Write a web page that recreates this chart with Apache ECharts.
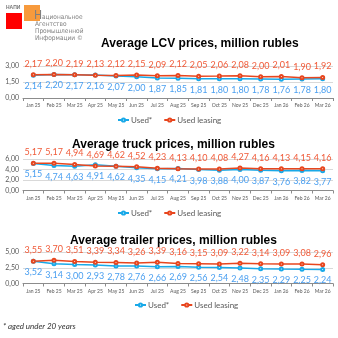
<!DOCTYPE html>
<html><head><meta charset="utf-8">
<script src="https://cdn.jsdelivr.net/npm/echarts@6/dist/echarts.min.js"></script>
<style>html,body{margin:0;padding:0;background:#fff}#c{width:338px;height:338px}</style>
</head><body><div id="c"></div>
<script>
const months = ['Jan 25','Feb 25','Mar 25','Apr 25','May 25','Jun 25','Jul 25','Aug 25','Sep 25','Oct 25','Nov 25','Dec 25','Jan 26','Feb 26','Mar 26'];
const titles = ['Average LCV prices, million rubles','Average truck prices, million rubles','Average trailer prices, million rubles'];
const seriesNames = ['Used*','Used leasing'];
const lcvUsed = [2.14,2.20,2.17,2.16,2.07,2.00,1.87,1.85,1.81,1.80,1.80,1.78,1.76,1.78,1.80];
const lcvLeasing = [2.17,2.20,2.19,2.13,2.12,2.15,2.09,2.12,2.05,2.06,2.08,2.00,2.01,1.90,1.92];
const truckUsed = [5.15,4.74,4.63,4.91,4.62,4.35,4.15,4.21,3.98,3.88,4.00,3.87,3.76,3.82,3.77];
const truckLeasing = [5.17,5.17,4.94,4.69,4.62,4.52,4.23,4.13,4.10,4.08,4.27,4.16,4.13,4.15,4.16];
const trailerUsed = [3.52,3.14,3.00,2.93,2.78,2.76,2.66,2.69,2.56,2.54,2.48,2.35,2.29,2.25,2.24];
const trailerLeasing = [3.55,3.70,3.51,3.39,3.34,3.26,3.39,3.16,3.15,3.09,3.22,3.14,3.09,3.08,2.96];
const yMax = [3, 6, 5];
const yInterval = [1.5, 2, 2.5];
const footnote = '* aged under 20 years';
const logoLines = ['ациональное','Агентство','Промышленной','Информации ©'];

const chart = echarts.init(document.getElementById('c'), null, {renderer:'canvas'});
const grids = [{top:66,height:32},{top:159,height:31.5},{top:252,height:31.5}];
const titlePos = [{left:96,top:33},{left:67,top:134},{left:65,top:230}];
const legendTop = [116,209,301];
const legendLeft = [117,117,134];
const blue = '#19a9e8', red = '#e8461e';
const fmt = p => p.value.toFixed(2).replace('.', ',');
const data = [[lcvUsed,lcvLeasing],[truckUsed,truckLeasing],[trailerUsed,trailerLeasing]];
const logoFont = "'DejaVu Sans Condensed', 'Liberation Sans', sans-serif";

const option = {
  animation:false,
  title: titles.map((t,i)=>({text:t,left:titlePos[i].left,top:titlePos[i].top,textStyle:{fontFamily:'Liberation Sans',fontWeight:'bold',fontSize:12,color:'#000'}})),
  legend: [0,1,2].map(i=>({data:seriesNames,top:legendTop[i],left:legendLeft[i],itemWidth:11,itemHeight:4,itemGap:11,textStyle:{fontFamily:'Lato',fontSize:8,color:'#595959',padding:[0,0,0,-3]},padding:0})),
  grid: grids.map(g=>({left:23,right:5,top:g.top,height:g.height})),
  xAxis: [0,1,2].map(i=>({type:'category',gridIndex:i,data:months,boundaryGap:true,
    axisLine:{lineStyle:{color:'#8c8c8c'}},axisTick:{show:true,length:3,lineStyle:{color:'#8c8c8c'}},
    axisLabel:{fontFamily:'Lato',fontSize:5,color:'#595959',margin:5,interval:0}})),
  yAxis: [0,1,2].map(i=>({type:'value',gridIndex:i,min:0,max:yMax[i],interval:yInterval[i],
    axisLine:{show:false},axisTick:{show:false},splitLine:{lineStyle:{color:'#d9d9d9'}},
    axisLabel:{fontFamily:'Lato',fontSize:7,color:'#595959',margin:4,formatter:v=>v.toFixed(2).replace('.',',')}})),
  series: [],
  graphic: [
    {type:'rect',shape:{x:6,y:13,width:16,height:16},style:{fill:'#ff0000'}},
    {type:'rect',shape:{x:24,y:5,width:16,height:16},style:{fill:'#f79a3c'}},
    {type:'text',left:6,top:5,style:{text:'НАПИ',fontSize:5,fontWeight:'bold',fill:'#777',fontFamily:'Liberation Sans'}},
    {type:'text',left:34,top:10,style:{text:'Н',fontSize:12,fill:'#7f7f7f',fontFamily:logoFont}},
    {type:'text',left:42,top:14,style:{text:logoLines[0],fontSize:6.5,fill:'#7f7f7f',fontFamily:logoFont}},
    {type:'text',left:35,top:21,style:{text:logoLines[1],fontSize:6.5,fill:'#7f7f7f',fontFamily:logoFont}},
    {type:'text',left:35,top:28,style:{text:logoLines[2],fontSize:6.5,fill:'#7f7f7f',fontFamily:logoFont}},
    {type:'text',left:35,top:35,style:{text:logoLines[3],fontSize:6.5,fill:'#7f7f7f',fontFamily:logoFont}},
    {type:'text',left:3,top:322,style:{text:footnote,fontSize:8,fontStyle:'italic',fill:'#333',fontFamily:'Lato'}}
  ]
};
[0,1,2].forEach(i=>{
  option.series.push({name:seriesNames[0],type:'line',xAxisIndex:i,yAxisIndex:i,data:data[i][0],
    symbol:'emptyCircle',symbolSize:3,lineStyle:{width:1.5,color:blue},itemStyle:{color:blue},
    label:{show:true,position:'bottom',distance:4,fontFamily:'Lato',fontSize:9,color:'#4a9ff0',formatter:fmt}});
  option.series.push({name:seriesNames[1],type:'line',xAxisIndex:i,yAxisIndex:i,data:data[i][1],
    symbol:'emptyCircle',symbolSize:3,lineStyle:{width:1.5,color:red},itemStyle:{color:red},
    label:{show:true,position:'top',distance:4,fontFamily:'Lato',fontSize:9,color:'#f05a38',formatter:fmt}});
});
chart.setOption(option);
</script></body></html>
